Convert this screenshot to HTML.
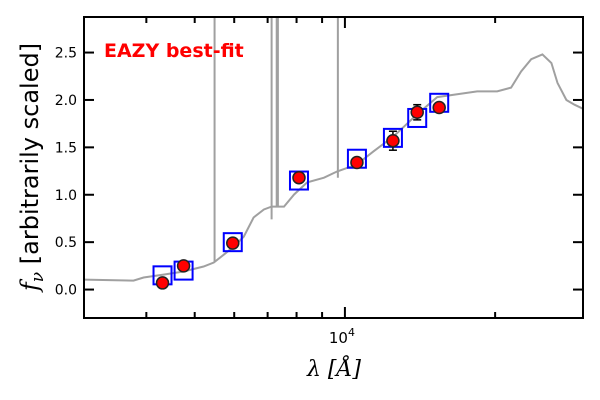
<!DOCTYPE html>
<html><head><meta charset="utf-8">
<style>
html,body{margin:0;padding:0;background:#fff;}
svg{display:block;font-family:"DejaVu Sans","Liberation Sans",sans-serif;}
</style></head>
<body>
<svg id="chart" width="600" height="400" viewBox="0 0 600 400" xmlns="http://www.w3.org/2000/svg">
<defs><clipPath id="clip"><rect x="84" y="17" width="499" height="301"/></clipPath></defs>
<g id="plot" clip-path="url(#clip)"></g>
<g id="axes"></g>
<text x="104" y="57" font-size="19" font-weight="bold" fill="#ff0000">EAZY best-fit</text>
<text x="334" y="376" font-size="22" text-anchor="middle" font-family="'DejaVu Serif','Liberation Serif',serif" font-style="italic">λ [Å]</text>
<text transform="translate(38,167) rotate(-90)" font-size="24" text-anchor="middle"><tspan font-family="'DejaVu Serif',serif" font-style="italic">f</tspan><tspan font-family="'DejaVu Serif',serif" font-style="italic" font-size="17" dy="5">ν</tspan><tspan dy="-5"> [arbitrarily scaled]</tspan></text>
</svg>
<script>
const specLam = [2992,3770,3950,4330,4750,5210,5460,5720,5990,6270,6560,6880,7130,7550,7910,8400,9080,9640,10570,11430,12540,13960,15310,16790,18410,20190,21530,22550,23620,24880,25930,26670,27790,28840,30200];
const specFlux = [0.105,0.095,0.127,0.158,0.19,0.243,0.285,0.369,0.454,0.559,0.76,0.844,0.875,0.875,1.003,1.13,1.18,1.245,1.32,1.46,1.62,1.85,2.03,2.06,2.09,2.09,2.13,2.30,2.43,2.48,2.39,2.18,2.00,1.95,1.90];
const lineLam = [5480,7130,7300,7340,9680];
const lineBase = [0.29,0.74,0.87,0.87,1.18];
const bandLam = [4310,4750,5960,8090,10570,12480,13960,15450];
const modelFlux = [0.15,0.20,0.50,1.15,1.38,1.60,1.81,1.97];
const obsFlux = [0.07,0.25,0.49,1.18,1.34,1.57,1.87,1.92];
const obsErr = [0.02,0.02,0.02,0.02,0.03,0.10,0.08,0.04];
const yTicks = [0.0,0.5,1.0,1.5,2.0,2.5];
const xMinor = [4000,5000,6000,7000,8000,9000,20000,30000];

const X0=84,X1=583,Y0=17,Y1=318;
const xMin=3000,xMax=30000,yMin=-0.3,yMax=2.875;
const xs=l=>X0+(Math.log10(l)-Math.log10(xMin))/(Math.log10(xMax)-Math.log10(xMin))*(X1-X0);
const ys=v=>Y1-(v-yMin)/(yMax-yMin)*(Y1-Y0);
const NS='http://www.w3.org/2000/svg';
function mk(t,a,p){const e=document.createElementNS(NS,t);for(const k in a)e.setAttribute(k,a[k]);p.appendChild(e);return e;}
const plot=document.getElementById('plot'),axes=document.getElementById('axes');

let d=specLam.map((l,i)=>(i?'L':'M')+xs(l).toFixed(1)+','+ys(specFlux[i]).toFixed(1)).join('');
const sp=mk('path',{d:d,fill:'none',stroke:'#a0a0a0','stroke-width':2},plot);


lineLam.forEach((l,i)=>{
  const ln=mk('line',{x1:xs(l),x2:xs(l),y1:ys(lineBase[i]),y2:Y0-5,stroke:'#a0a0a0','stroke-width':2},plot);
  
  
});
bandLam.forEach((l,i)=>{
  const r=mk('rect',{x:xs(l)-9,y:ys(modelFlux[i])-9,width:18,height:18,fill:'none',stroke:'#0000ff','stroke-width':2},plot);
  
  
});
bandLam.forEach((l,i)=>{
  const x=xs(l),yt=ys(obsFlux[i]+obsErr[i]),yb=ys(obsFlux[i]-obsErr[i]);
  const g=mk('g',{stroke:'#000','stroke-width':1.5},plot);
  
  
  mk('line',{x1:x,x2:x,y1:yt,y2:yb},g);
  mk('line',{x1:x-4,x2:x+4,y1:yt,y2:yt},g);
  mk('line',{x1:x-4,x2:x+4,y1:yb,y2:yb},g);
  const c=mk('circle',{cx:x,cy:ys(obsFlux[i]),r:6,fill:'#ff0000',stroke:'#222','stroke-width':1.5},plot);
  
  
});
yTicks.forEach(v=>{
  const y=ys(v);
  mk('line',{x1:X0,x2:X0+10,y1:y,y2:y,stroke:'#000','stroke-width':2},axes);
  mk('line',{x1:X1-10,x2:X1,y1:y,y2:y,stroke:'#000','stroke-width':2},axes);
  const t=mk('text',{x:X0-7,y:y+5,'font-size':14,'text-anchor':'end'},axes);
  
  
  t.textContent=v.toFixed(1);
});
xMinor.forEach(l=>{
  const x=xs(l);
  mk('line',{x1:x,x2:x,y1:Y1,y2:Y1-6,stroke:'#000','stroke-width':2},axes);
  mk('line',{x1:x,x2:x,y1:Y0,y2:Y0+6,stroke:'#000','stroke-width':2},axes);
});
{
  const x=xs(10000);
  mk('line',{x1:x,x2:x,y1:Y1,y2:Y1-11,stroke:'#000','stroke-width':2},axes);
  mk('line',{x1:x,x2:x,y1:Y0,y2:Y0+11,stroke:'#000','stroke-width':2},axes);
  const t=mk('text',{x:x-3,y:Y1+25,'font-size':15,'text-anchor':'middle'},axes);
  
  
  t.innerHTML='10<tspan font-size="11" dy="-7">4</tspan>';
}
const fr=mk('rect',{x:X0,y:Y0,width:X1-X0,height:Y1-Y0,fill:'none',stroke:'#000','stroke-width':2},axes);


</script>
</body></html>
